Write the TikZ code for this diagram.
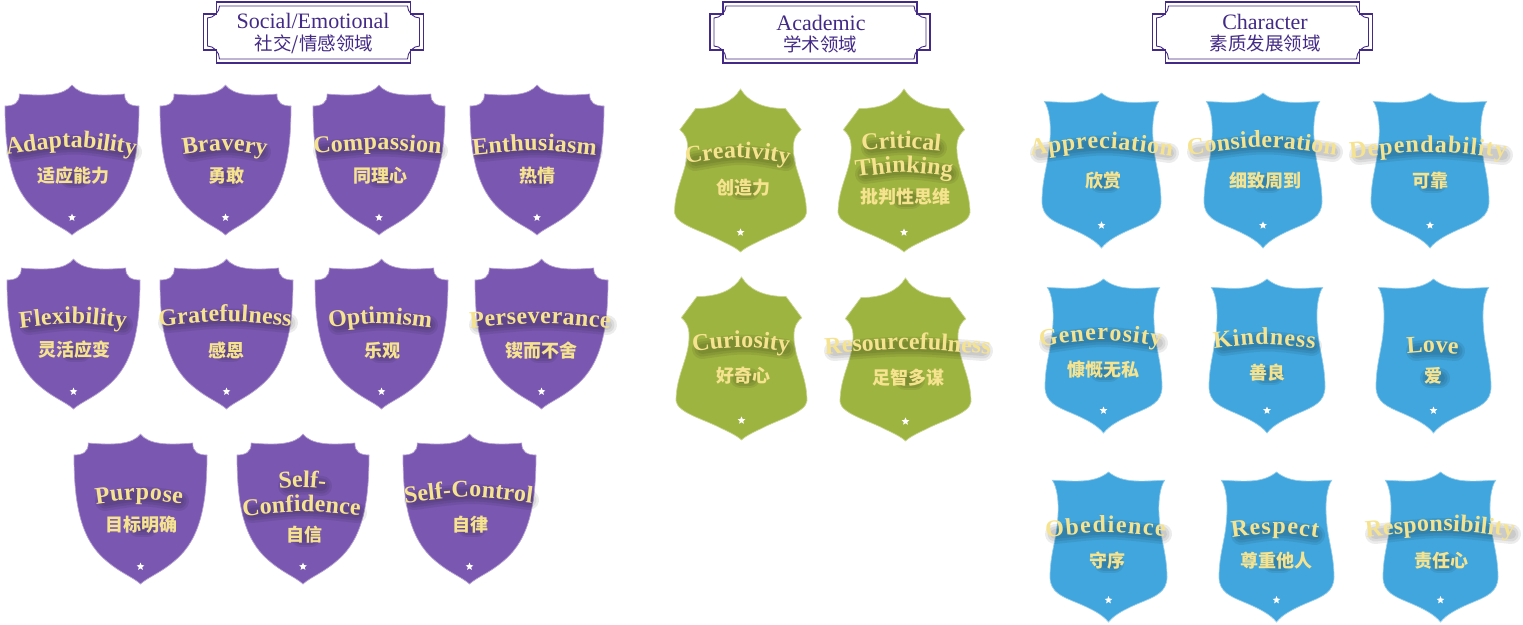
\documentclass[tikz,border=0pt]{standalone}
\usepackage{fontspec}
\usetikzlibrary{decorations.text,shapes.geometric}
\setmainfont{Liberation Serif}
\newfontfamily\cjkf{Noto Sans CJK SC}
\newcommand{\engf}{\fontsize{24}{24}\selectfont\bfseries}
\newcommand{\cjkb}{\cjkf\bfseries\fontsize{18}{18}\selectfont}
\definecolor{purp}{HTML}{7A57B0}
\definecolor{grn}{HTML}{9EB440}
\definecolor{blu}{HTML}{40A6DD}
\definecolor{gold}{HTML}{F6E390}
\definecolor{ink}{HTML}{432A86}
\newcount\nodeid
\tikzset{
  x=1pt,y=-1pt,
  shieldface/.style={fill=#1,draw=#1!55!white,line width=.7pt},
  starmark/.style={star,star points=5,star point ratio=2.2,fill=white,inner sep=0pt,minimum size=8pt},
  cjklabel/.style={font=\cjkb,text=gold,inner sep=0pt},
  titlemain/.style={font=\fontsize{22}{22}\selectfont,text=ink,inner sep=0pt},
  titlecjk/.style={font=\cjkf\fontsize{18.5}{18.5}\selectfont,text=ink,inner sep=0pt},
  frameline/.style={draw=ink,line width=1.4pt,line join=miter},
  softshade/.style={draw=black,opacity=.075,line cap=round}
}
\newcommand{\markstar}[1]{\global\advance\nodeid by 1
  \node[starmark] (n\the\nodeid) at (0,#1) {};}
% cx, top, halfwidth, height
\newcommand{\shieldP}[4]{%
 \begin{scope}[shift={(#1,#2)},x=#3pt,y=-#4pt]
  \draw[shieldface=purp] (0,0) .. controls (-.12,.07) and (-.4,.075) .. (-.786,.06)
   .. controls (-.78,.12) and (-.87,.14) .. (-1,.14)
   .. controls (-1,.42) and (-.93,.66) .. (-.6,.81)
   .. controls (-.35,.92) and (-.12,.95) .. (0,1)
   .. controls (.12,.95) and (.35,.92) .. (.6,.81)
   .. controls (.93,.66) and (1,.42) .. (1,.14)
   .. controls (.87,.14) and (.78,.12) .. (.786,.06)
   .. controls (.4,.075) and (.12,.07) .. (0,0) -- cycle;
  \markstar{.884}
 \end{scope}}
\newcommand{\shieldG}[4]{%
 \begin{scope}[shift={(#1,#2)},x=#3pt,y=-#4pt]
  \draw[shieldface=grn] (0,0) .. controls (-.12,.08) and (-.35,.12) .. (-.68,.12)
   -- (-.92,.25) .. controls (-.86,.27) and (-.8,.3) .. (-.8,.36)
   .. controls (-.8,.5) and (-1,.6) .. (-1,.76)
   .. controls (-.98,.83) and (-.6,.87) .. (-.35,.92)
   .. controls (-.2,.95) and (-.08,.97) .. (0,1)
   .. controls (.08,.97) and (.2,.95) .. (.35,.92)
   .. controls (.6,.87) and (.98,.83) .. (1,.76)
   .. controls (1,.6) and (.8,.5) .. (.8,.36)
   .. controls (.8,.3) and (.86,.27) .. (.92,.25)
   -- (.68,.12) .. controls (.35,.12) and (.12,.08) .. (0,0) -- cycle;
  \markstar{.88}
 \end{scope}}
\newcommand{\shieldB}[4]{%
 \begin{scope}[shift={(#1,#2)},x=#3pt,y=-#4pt]
  \draw[shieldface=blu] (0,0) .. controls (-.25,.08) and (-.6,.06) .. (-.96,.055)
   .. controls (-.88,.1) and (-.84,.2) .. (-.87,.32)
   .. controls (-.89,.45) and (-1,.55) .. (-1,.70)
   .. controls (-1,.8) and (-.8,.83) .. (-.55,.87)
   .. controls (-.3,.91) and (-.1,.95) .. (0,1)
   .. controls (.1,.95) and (.3,.91) .. (.55,.87)
   .. controls (.8,.83) and (1,.8) .. (1,.70)
   .. controls (1,.55) and (.89,.45) .. (.87,.32)
   .. controls (.84,.2) and (.88,.1) .. (.96,.055)
   .. controls (.6,.06) and (.25,.08) .. (0,0) -- cycle;
  \markstar{.854}
 \end{scope}}
% x1 x2 baseline sag text
\newcommand{\curved}[5]{%
 \foreach \wd in {20,15,10}{
  \draw[softshade,line width=\wd pt,shift={(2,-3)}]
     ({#1+7},#3) .. controls ({(#1+#2)/2},{#3-2*#4}) .. ({#2-7},#3);}
 \path[decorate,decoration={text along path,text align={fit to path},
     text={|\engf\color{gold}|#5}}]
     (#1,#3) .. controls ({(#1+#2)/2},{#3-2*#4}) .. ({#2-2},#3);}
% cx cy text
\newcommand{\clab}[3]{%
 \sbox0{\cjkb #3}\pgfmathsetmacro{\hw}{\wd0/2-5}%
 \foreach \wd in {20,15,10}{
  \draw[softshade,line width=\wd pt] ({#1+2-\hw},{#2+2}) -- ({#1+2+\hw},{#2+2});}
 \global\advance\nodeid by 1
 \node[cjklabel] (n\the\nodeid) at (#1,#2) {#3};}
\newcommand{\tframe}[1]{%
 \begin{scope}[shift={(#1,0)}]
  \draw[frameline] (-97,2) -- (97,2) -- (97,14) -- (110,14) -- (110,50) -- (97,50) -- (97,63) -- (-97,63) -- (-97,50) -- (-110,50) -- (-110,14) -- (-97,14) -- cycle;
  \draw[frameline,line width=.9pt] (-94,6) -- (94,6) .. controls (94,12) and (100,18) .. (106,18)
    -- (106,46) .. controls (100,46) and (94,52) .. (94,59) -- (-94,59)
    .. controls (-94,52) and (-100,46) .. (-106,46) -- (-106,18)
    .. controls (-100,18) and (-94,12) .. (-94,6) -- cycle;
 \end{scope}}
\begin{document}
\begin{tikzpicture}
\useasboundingbox (0,0) rectangle (1523,624);
\tframe{313.5}\tframe{820}\tframe{1262.5}
\node[titlemain] (t1) at (313,21) {Social/Emotional};
\node[titlecjk] (t1c) at (314,44) {社交/情感领域};
\node[titlemain] (t2) at (821,23) {Academic};
\node[titlecjk] (t2c) at (820,44) {学术领域};
\node[titlemain] (t3) at (1265,22) {Character};
\node[titlecjk] (t3c) at (1265,43) {素质发展领域};
% purple
\shieldP{72}{85}{67}{150}\shieldP{225.5}{85}{65.5}{150}\shieldP{379}{85}{66}{150}\shieldP{537}{85}{67}{150}
\shieldP{73.5}{259}{66.5}{150}\shieldP{226.5}{259}{66.5}{150}\shieldP{381.5}{259}{66.5}{150}\shieldP{541.5}{259}{66.5}{150}
\shieldP{140.5}{434}{66.5}{150}\shieldP{303}{434}{66}{150}\shieldP{469.5}{434}{66.5}{150}
% green
\shieldG{740.5}{89}{66}{163}\shieldG{904}{89}{66}{163}\shieldG{741.5}{277}{65.5}{163}\shieldG{905.5}{278}{65.5}{163}
% blue
\shieldB{1101.5}{93}{59.5}{155}\shieldB{1263}{93}{59}{155}\shieldB{1430}{93}{59}{155}
\shieldB{1103.5}{279}{58.5}{154}\shieldB{1267}{279}{58}{154}\shieldB{1433.5}{279}{57.5}{154}
\shieldB{1108.5}{472}{58.5}{150}\shieldB{1276.5}{472}{57.5}{150}\shieldB{1440.5}{472}{57.5}{150}
% labels
\curved{7}{137}{155}{5}{Adaptability}\clab{73}{176}{适应能力}
\curved{183}{266}{155}{3}{Bravery}\clab{226}{176}{勇敢}
\curved{314}{443}{154}{3}{Compassion}\clab{380}{176}{同理心}
\curved{473}{598}{155}{3}{Enthusiasm}\clab{537}{176}{热情}
\curved{20}{128}{328}{3}{Flexibility}\clab{74}{350}{灵活应变}
\curved{159}{293}{326}{3}{Gratefulness}\clab{226}{350}{感恩}
\curved{329}{433}{328}{3}{Optimism}\clab{382}{351}{乐观}
\curved{470}{612}{328}{3}{Perseverance}\clab{541}{351}{锲而不舍}
\curved{96}{184}{504}{3}{Purpose}\clab{141}{525}{目标明确}
\curved{279}{327}{489}{1}{Self-}\curved{243}{362}{516}{3}{Confidence}\clab{304}{535}{自信}
\curved{405}{534}{503}{4}{Self-Control}\clab{470}{525}{自律}
\curved{686}{791}{164}{4}{Creativity}\clab{743}{188}{创造力}
\curved{862}{942}{151}{2}{Critical}\curved{856}{954}{177}{3}{Thinking}\clab{905}{197}{批判性思维}
\curved{693}{791}{352}{3}{Curiosity}\clab{743}{376}{好奇心}
\curved{825}{988}{354}{3}{Resourcefulness}\clab{908}{378}{足智多谋}
\curved{1031}{1174}{156}{5}{Appreciation}\clab{1103}{181}{欣赏}
\curved{1188}{1338}{155}{5}{Consideration}\clab{1265}{181}{细致周到}
\curved{1350}{1508}{158}{4}{Dependability}\clab{1430}{181}{可靠}
\curved{1040}{1163}{346}{4}{Generosity}\clab{1103}{370}{慷慨无私}
\curved{1214}{1317}{349}{3}{Kindness}\clab{1267}{373}{善良}
\curved{1407}{1460}{354}{1}{Love}\clab{1433}{376}{爱}
\curved{1046}{1167}{537}{3}{Obedience}\clab{1107}{561}{守序}
\curved{1232}{1320}{538}{3}{Respect}\clab{1276}{561}{尊重他人}
\curved{1366}{1516}{537}{4}{Responsibility}\clab{1441}{561}{责任心}
\end{tikzpicture}
\end{document}
